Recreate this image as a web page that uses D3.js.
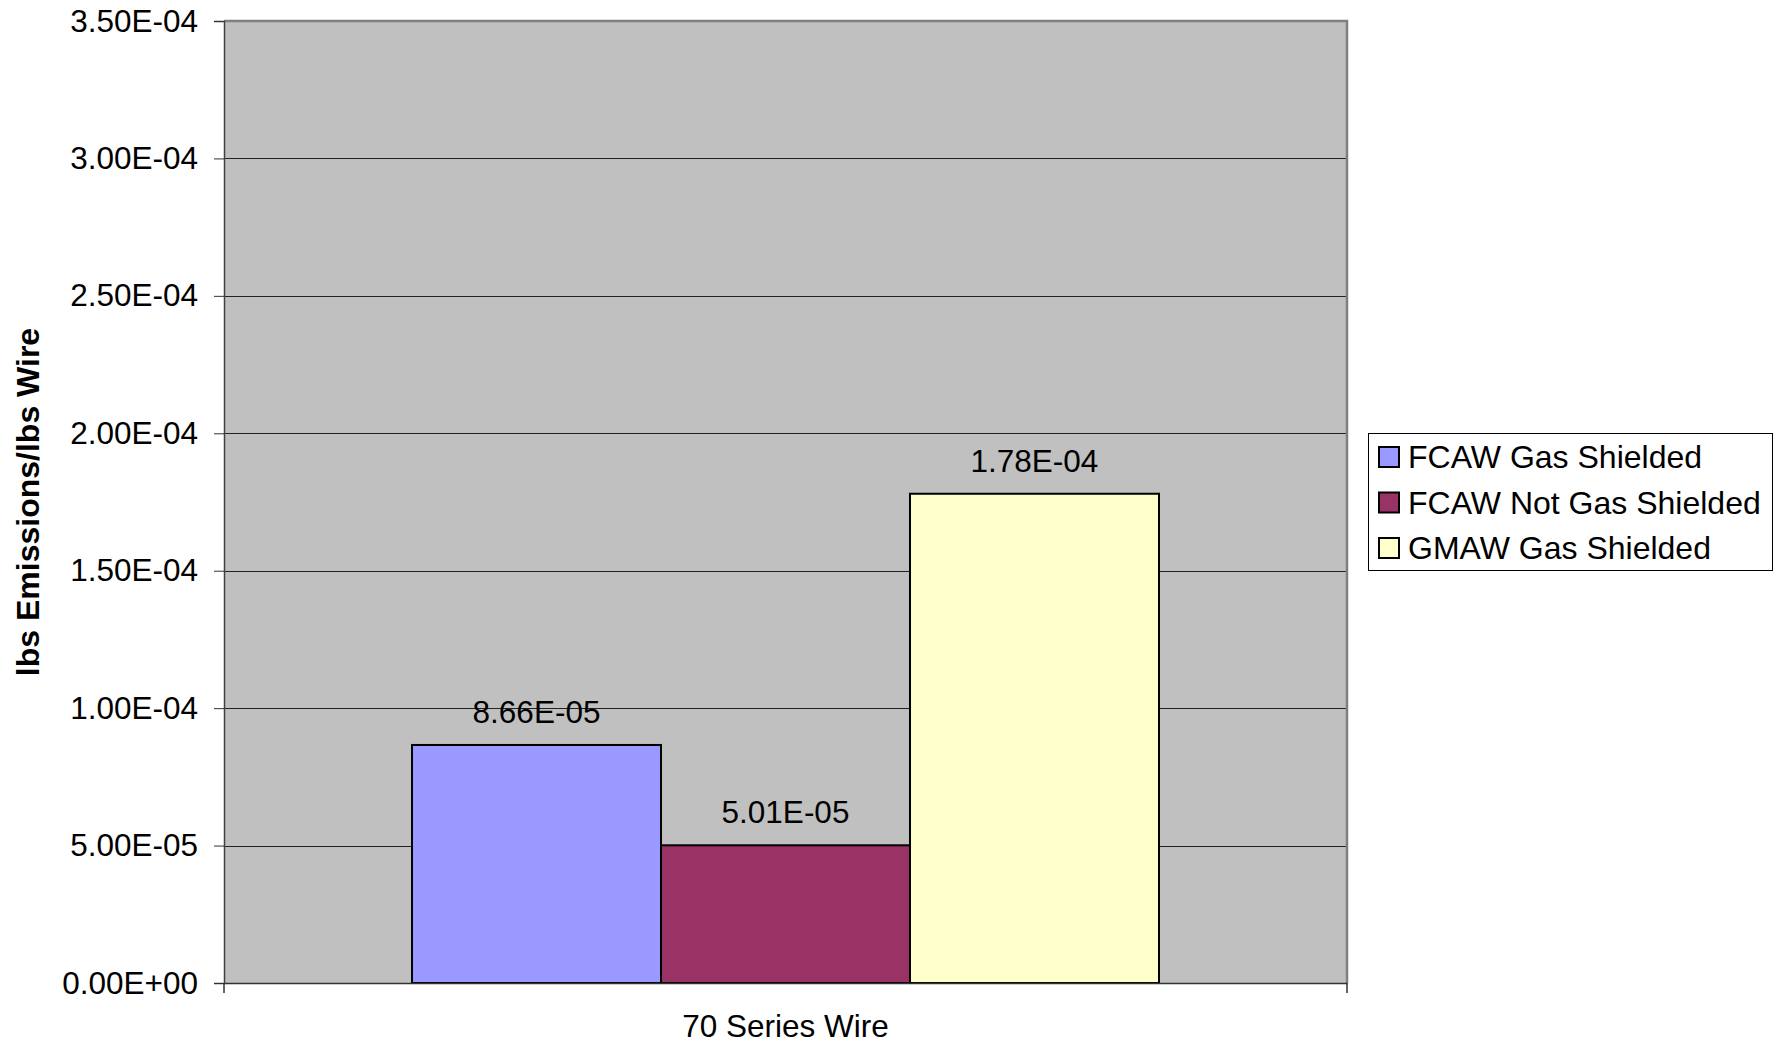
<!DOCTYPE html>
<html>
<head>
<meta charset="utf-8">
<script src="https://cdn.jsdelivr.net/npm/d3@7"></script>
<style>
  html, body { margin: 0; padding: 0; background: #fff; }
  svg { display: block; font-family: "Liberation Sans", Arial, sans-serif; }
</style>
</head>
<body>
<svg id="chart" width="1780" height="1047"></svg>
<script>
// Emission factors per wire category
const categories = ["70 Series Wire"];
const seriesNames = ["FCAW Gas Shielded", "FCAW Not Gas Shielded", "GMAW Gas Shielded"];
const seriesValues = [8.66e-5, 5.01e-5, 1.78e-4];
const seriesColors = ["#9999FF", "#993366", "#FFFFCC"];
const yTicks = [0, 5e-5, 1e-4, 1.5e-4, 2e-4, 2.5e-4, 3e-4, 3.5e-4];
const yTitle = "lbs Emissions/lbs Wire";

const fmt = v => {
  if (v === 0) return "0.00E+00";
  const e = Math.floor(Math.log10(Math.abs(v)));
  const m = v / Math.pow(10, e);
  const es = (e < 0 ? "-" : "+") + String(Math.abs(e)).padStart(2, "0");
  return m.toFixed(2) + "E" + es;
};

const svg = d3.select("#chart");
const plot = { left: 224, right: 1347, top: 21, bottom: 983 };
const FS = 31.5;

const y = d3.scaleLinear().domain([0, 3.5e-4]).range([plot.bottom, plot.top]);
const x0 = d3.scaleBand().domain(categories).range([plot.left, plot.right])
  .paddingInner(0).paddingOuter(0.2517);
const x1 = d3.scaleBand().domain(seriesNames).range([0, x0.bandwidth()]).padding(0);

// plot background
svg.append("rect")
  .attr("x", plot.left).attr("y", plot.top)
  .attr("width", plot.right - plot.left).attr("height", plot.bottom - plot.top)
  .attr("fill", "#C0C0C0");

// horizontal gridlines
svg.append("g").selectAll("line")
  .data(yTicks.filter(t => t > 0 && t < 3.5e-4))
  .join("line")
  .attr("x1", plot.left).attr("x2", plot.right)
  .attr("y1", d => Math.round(y(d)) + 0.5).attr("y2", d => Math.round(y(d)) + 0.5)
  .attr("stroke", "#222").attr("stroke-width", 1);

// plot frame (top and right)
svg.append("path")
  .attr("d", `M${plot.left},${plot.top} H${plot.right} V${plot.bottom}`)
  .attr("fill", "none").attr("stroke", "#808080").attr("stroke-width", 2.5);

// bars
const g = svg.append("g");
categories.forEach(cat => {
  g.selectAll(null)
    .data(seriesNames.map((s, i) => ({ s, v: seriesValues[i], c: seriesColors[i] })))
    .join("rect")
    .attr("x", d => x0(cat) + x1(d.s))
    .attr("y", d => y(d.v))
    .attr("width", x1.bandwidth())
    .attr("height", d => y(0) - y(d.v))
    .attr("fill", d => d.c)
    .attr("stroke", "#000").attr("stroke-width", 2);

  g.selectAll(null)
    .data(seriesNames.map((s, i) => ({ s, v: seriesValues[i] })))
    .join("text")
    .attr("x", d => x0(cat) + x1(d.s) + x1.bandwidth() / 2)
    .attr("y", d => y(d.v) - 22)
    .attr("text-anchor", "middle")
    .attr("font-size", FS)
    .attr("fill", "#000")
    .text(d => fmt(d.v));
});

// y axis
const yAxis = d3.axisLeft(y).tickValues(yTicks).tickFormat(fmt).tickSize(10).tickPadding(16);
const ya = svg.append("g").attr("transform", `translate(${plot.left},0)`).call(yAxis);
ya.select(".domain").attr("stroke", "#404040").attr("stroke-width", 1.5);
ya.selectAll(".tick line").attr("stroke", "#333");
ya.selectAll(".tick text").attr("font-size", FS).attr("font-family", "Liberation Sans, Arial, sans-serif").attr("fill", "#000");

// x axis
const xAxis = d3.axisBottom(x0).tickSize(0).tickPadding(0);
const xa = svg.append("g").attr("transform", `translate(0,${plot.bottom})`).call(xAxis);
xa.select(".domain").attr("stroke", "#333").attr("stroke-width", 1.5);
xa.selectAll(".tick text")
  .attr("font-size", FS).attr("font-family", "Liberation Sans, Arial, sans-serif")
  .attr("fill", "#000").attr("dy", 0).attr("y", 54);
// category boundary ticks
xa.selectAll(".edge").data([plot.left, plot.right]).join("line")
  .attr("x1", d => d).attr("x2", d => d).attr("y1", 0).attr("y2", 10)
  .attr("stroke", "#333").attr("stroke-width", 1.5);

// y axis title
svg.append("text")
  .attr("transform", `translate(39,${(plot.top + plot.bottom) / 2}) rotate(-90)`)
  .attr("text-anchor", "middle")
  .attr("font-size", 32).attr("font-weight", "bold")
  .text(yTitle);

// legend
const lg = svg.append("g");
lg.append("rect")
  .attr("x", 1368.5).attr("y", 433.5).attr("width", 404).attr("height", 137)
  .attr("fill", "#fff").attr("stroke", "#000").attr("stroke-width", 1);
const items = lg.selectAll("g.item")
  .data(seriesNames.map((s, i) => ({ s, c: seriesColors[i] })))
  .join("g").attr("class", "item")
  .attr("transform", (d, i) => `translate(1378,${457 + i * 45.5})`);
items.append("rect")
  .attr("x", 1).attr("y", -10).attr("width", 20).attr("height", 20)
  .attr("fill", d => d.c).attr("stroke", "#000").attr("stroke-width", 2);
items.append("text")
  .attr("x", 30).attr("y", 11)
  .attr("font-size", 32).attr("fill", "#000")
  .text(d => d.s);
</script>
</body>
</html>
